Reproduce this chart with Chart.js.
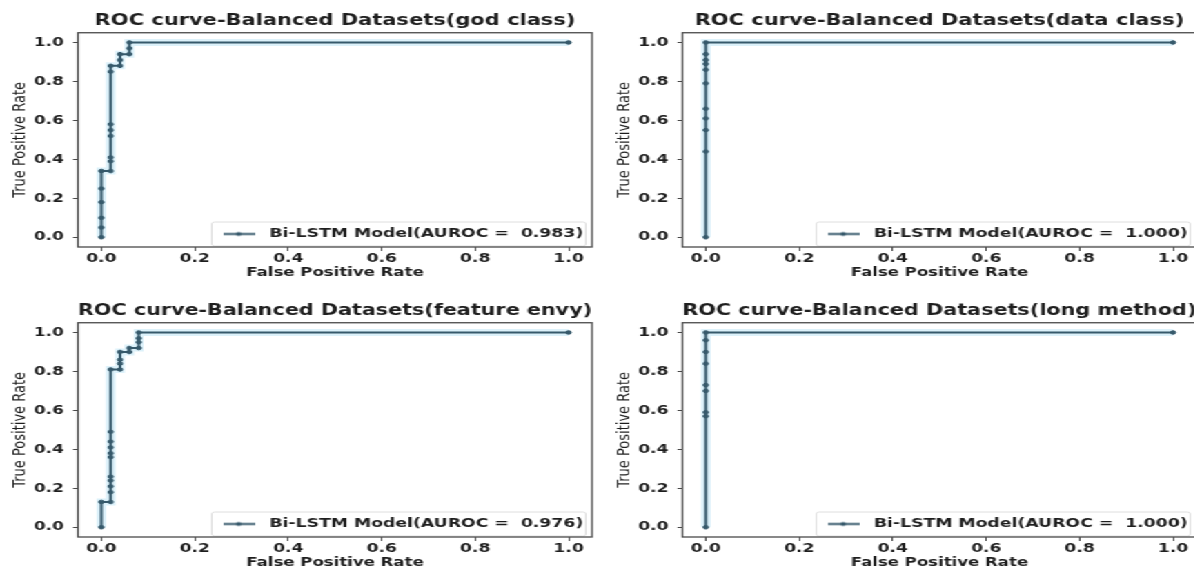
<!DOCTYPE html>
<html>
<head>
<meta charset="utf-8">
<title>ROC curves - Balanced Datasets</title>
<script src="https://cdn.jsdelivr.net/npm/chart.js@4.4.1/dist/chart.umd.min.js"></script>
<style>
  html, body { margin: 0; padding: 0; background: #fff; overflow: hidden; width: 1194px; height: 568px; }
  /* the figure is laid out narrow and widened horizontally */
  #figure { position: absolute; left: 0; top: 0; width: 880px; height: 580px; transform-origin: 0 0; transform: scaleX(1.38); }
  #figure canvas { position: absolute; }
</style>
</head>
<body>
<div id="figure">
  <canvas id="godClass"     width="440" height="284" style="left:0px;top:0px;width:440px;height:284px"></canvas>
  <canvas id="dataClass"    width="440" height="284" style="left:438.4px;top:0px;width:440px;height:284px"></canvas>
  <canvas id="featureEnvy"  width="440" height="284" style="left:0px;top:289.5px;width:440px;height:284px"></canvas>
  <canvas id="longMethod"   width="440" height="284" style="left:438.4px;top:289.5px;width:440px;height:284px"></canvas>
</div>
<script>
// axis ticks
const xTicks = [0, 0.2, 0.4, 0.6, 0.8, 1.0];
const yTicks = [0, 0.2, 0.4, 0.6, 0.8, 1.0];

// god class
const godFpr = [0, 0, 0, 0, 0, 0, 0.02, 0.02, 0.02, 0.02, 0.02, 0.02, 0.02, 0.02, 0.04, 0.04, 0.04, 0.06, 0.06, 0.06, 1];
const godTpr = [0, 0.05, 0.10, 0.18, 0.25, 0.34, 0.34, 0.39, 0.41, 0.52, 0.55, 0.58, 0.85, 0.88, 0.88, 0.91, 0.94, 0.94, 0.97, 1.0, 1.0];
const godAuroc = '0.983';

// data class
const dataFpr = [0, 0, 0, 0, 0, 0, 0, 0, 0, 0, 0, 1];
const dataTpr = [0, 0.44, 0.55, 0.61, 0.66, 0.79, 0.86, 0.89, 0.91, 0.94, 1.0, 1.0];
const dataAuroc = '1.000';

// feature envy
const envyFpr = [0, 0, 0.02, 0.02, 0.02, 0.02, 0.02, 0.02, 0.02, 0.02, 0.02, 0.02, 0.02, 0.04, 0.04, 0.04, 0.04, 0.06, 0.06, 0.08, 0.08, 0.08, 0.08, 1];
const envyTpr = [0, 0.13, 0.13, 0.18, 0.21, 0.24, 0.26, 0.36, 0.38, 0.41, 0.44, 0.49, 0.81, 0.81, 0.84, 0.86, 0.90, 0.90, 0.92, 0.92, 0.95, 0.97, 1.0, 1.0];
const envyAuroc = '0.976';

// long method
const longFpr = [0, 0, 0, 0, 0, 0, 0, 0, 0, 1];
const longTpr = [0, 0.57, 0.59, 0.70, 0.73, 0.84, 0.90, 0.96, 1.0, 1.0];
const longAuroc = '1.000';

const lineColor = '#36596b';
const haloColor = 'rgba(186, 228, 246, 0.5)';
const textColor = '#1e1e1e';

Chart.defaults.font.family = 'DejaVu Sans';
Chart.defaults.color = textColor;

// legend sample: a short line with a marker in the middle
const sample = document.createElement('canvas');
sample.width = 23; sample.height = 7;
(() => {
  const c = sample.getContext('2d');
  c.strokeStyle = lineColor; c.lineWidth = 2;
  c.beginPath(); c.moveTo(0, 3.5); c.lineTo(23, 3.5); c.stroke();
  c.fillStyle = lineColor;
  c.beginPath(); c.arc(11.5, 3.5, 2, 0, Math.PI * 2); c.fill();
})();

// places the legend in the lower-right corner of the plot and draws the axes frame
const frameAndLegend = {
  id: 'frameAndLegend',
  afterLayout(chart) {
    const lg = chart.legend, a = chart.chartArea;
    if (!lg) return;
    lg.left = a.right - 279; lg.right = a.right - 4.5;
    lg.top = a.bottom - 25; lg.bottom = a.bottom - 1;
    lg.width = lg.right - lg.left; lg.height = lg.bottom - lg.top;
  },
  afterDraw(chart) {
    const ctx = chart.ctx, a = chart.chartArea, lg = chart.legend;
    ctx.save();
    ctx.strokeStyle = '#dedede'; ctx.lineWidth = 1;
    ctx.beginPath();
    ctx.roundRect(lg.left + 3.5, lg.top, lg.right - lg.left - 3.5, lg.bottom - lg.top, 2);
    ctx.stroke();
    ctx.strokeStyle = '#4a4a4a'; ctx.lineWidth = 1.3;
    ctx.strokeRect(a.left, a.top, a.right - a.left, a.bottom - a.top);
    ctx.restore();
  }
};

function rocChart(canvasId, titleText, fpr, tpr, auroc) {
  const pts = fpr.map((x, i) => ({ x: x, y: tpr[i] }));
  return new Chart(document.getElementById(canvasId), {
    type: 'line',
    data: {
      datasets: [
        {
          label: 'Bi-LSTM Model(AUROC =  ' + auroc + ')',
          data: pts,
          borderColor: lineColor,
          backgroundColor: lineColor,
          borderWidth: 2,
          pointRadius: 1.8,
          pointBorderWidth: 1,
          pointBackgroundColor: lineColor,
          pointBorderColor: lineColor,
          tension: 0,
          fill: false,
          order: 1
        },
        {
          label: '',
          data: pts,
          borderColor: haloColor,
          borderWidth: 7,
          pointRadius: 0,
          tension: 0,
          fill: false,
          order: 2
        }
      ]
    },
    options: {
      responsive: false,
      animation: false,
      devicePixelRatio: 1,
      events: [],
      layout: { padding: { left: 0, right: 11, top: 0, bottom: 0 } },
      scales: {
        x: {
          type: 'linear',
          min: -0.05, max: 1.05,
          afterBuildTicks: (axis) => { axis.ticks = xTicks.map(v => ({ value: v })); },
          afterFit: (scale) => { scale.height = 37; },
          ticks: {
            callback: (v) => Number(v).toFixed(1),
            font: { size: 12.4, weight: 'bold' },
            color: textColor,
            padding: 0.5,
            maxRotation: 0
          },
          grid: { display: true, drawOnChartArea: false, drawTicks: true, tickLength: 4, tickColor: '#4a4a4a', tickWidth: 1 },
          border: { display: false },
          title: { display: true, text: 'False Positive Rate', font: { size: 12, weight: 'bold' }, color: textColor, padding: { top: 0, bottom: 4 } }
        },
        y: {
          type: 'linear',
          min: -0.05, max: 1.05,
          afterBuildTicks: (axis) => { axis.ticks = yTicks.map(v => ({ value: v })); },
          afterFit: (scale) => { scale.width = 56.5; },
          ticks: {
            callback: (v) => Number(v).toFixed(1),
            font: { size: 12.4, weight: 'bold' },
            color: textColor,
            padding: 6.5
          },
          grid: { display: true, drawOnChartArea: false, drawTicks: true, tickLength: 3.6, tickColor: '#4a4a4a', tickWidth: 1 },
          border: { display: false },
          title: { display: true, text: 'True Positive Rate', font: { size: 13, weight: 'normal' }, color: textColor, padding: { top: 6.7, bottom: 0 } }
        }
      },
      plugins: {
        tooltip: { enabled: false },
        title: {
          display: true,
          fullSize: false,
          text: titleText,
          font: { size: 15.2, weight: 'bold' },
          color: textColor,
          padding: { top: 12, bottom: 2.5 }
        },
        legend: {
          position: 'chartArea',
          align: 'center',
          labels: {
            filter: (item) => item.datasetIndex === 0,
            usePointStyle: true,
            pointStyle: sample,
            pointStyleWidth: 32,
            padding: 7,
            font: { size: 12.5, weight: 'bold' },
            color: textColor
          }
        }
      }
    },
    plugins: [frameAndLegend]
  });
}

rocChart('godClass', 'ROC curve-Balanced Datasets(god class)', godFpr, godTpr, godAuroc);
rocChart('dataClass', 'ROC curve-Balanced Datasets(data class)', dataFpr, dataTpr, dataAuroc);
rocChart('featureEnvy', 'ROC curve-Balanced Datasets(feature envy)', envyFpr, envyTpr, envyAuroc);
rocChart('longMethod', 'ROC curve-Balanced Datasets(long method)', longFpr, longTpr, longAuroc);
</script>
</body>
</html>
